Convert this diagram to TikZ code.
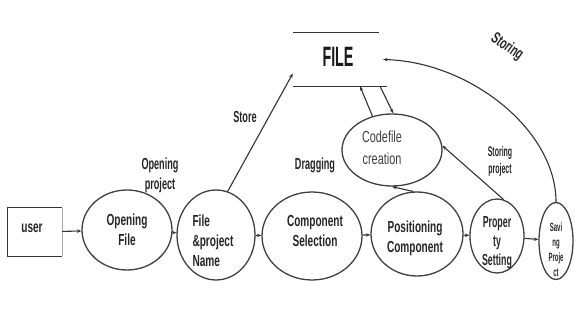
\documentclass[tikz,border=0pt]{standalone}
\usepackage{fontspec}
\setmainfont{Liberation Sans}
\newfontfamily\fM{Liberation Sans}[FakeStretch=0.63]
\newfontfamily\fL{Liberation Sans}[FakeStretch=0.57]
\newfontfamily\fP{Liberation Sans}[FakeStretch=0.55]
\newfontfamily\fS{Liberation Sans}[FakeStretch=0.5]
\newfontfamily\fC{Liberation Sans}[FakeStretch=0.68]
\newfontfamily\fF{Liberation Sans}[FakeStretch=0.51]
\usetikzlibrary{shapes.geometric,arrows.meta,calc}
\begin{document}
\begin{tikzpicture}[x=1pt,y=-1pt,
  ell/.style={ellipse, draw=black!75, line width=1.3pt, inner sep=0pt},
  arr/.style={draw=black!80, line width=1.1pt, -{Stealth[length=4.5pt,width=3.5pt]}},
  edge/.style={draw=black!80, line width=1.3pt},
  txt/.style={font=\fM\bfseries\fontsize{16}{20}\selectfont, align=center, text=black!85, inner sep=0pt},
  lbl/.style={font=\fL\bfseries\fontsize{16}{20}\selectfont, align=center, text=black!85, inner sep=0pt},
  ptxt/.style={font=\fP\bfseries\fontsize{16}{19}\selectfont, align=center, text=black!85, inner sep=0pt},
  stxt/.style={font=\fS\bfseries\fontsize{12}{15}\selectfont, align=center, text=black!85, inner sep=0pt},
  sml/.style={font=\fS\bfseries\fontsize{14}{17}\selectfont, align=center, text=black!85, inner sep=0pt},
  ctxt/.style={font=\fC\fontsize{16}{22}\selectfont, align=center, text=black!75, inner sep=0pt}]
\useasboundingbox (0,0) rectangle (579,320);
\fill[white] (0,0) rectangle (579,320);

% user box
\node[minimum width=54pt, minimum height=48pt, inner sep=0pt] (user) at (35,232) {};
\draw[edge] ($(user.north west)+(-1,0)$) -- (user.north east);
\draw[edge] ($(user.south west)+(-1,0)$) -- (user.south east);
\draw[edge] (user.north west) -- (user.south west);
\draw[draw=black!35, line width=0.6pt] (user.north east) -- (user.south east);
\node[txt] (usert) at (32,228) {user};

% ellipses
\node[ell, minimum width=90pt, minimum height=80pt] (of) at (127,230) {};
\node[ell, minimum width=78pt, minimum height=90pt] (fpn) at (216,235) {};
\node[ell, minimum width=100pt, minimum height=88pt] (cs) at (312,236) {};
\node[ell, minimum width=92pt, minimum height=84pt] (pc) at (417,234) {};
\node[ell, minimum width=54pt, minimum height=74pt] (pst) at (497,236) {};
\node[ell, minimum width=34pt, minimum height=77pt] (sp) at (556,241) {};
\node[ell, minimum width=100pt, minimum height=72pt] (cf) at (392,150) {};

% texts in ellipses
\node[txt] (oft) at (127,230) {Opening\\File};
\node[txt, align=left] (fpnt) at (213,241) {File\\\&project\\Name};
\node[txt] (cst) at (315,231) {Component\\Selection};
\node[txt] (pct) at (415,238) {Positioning\\Component};
\node[ptxt] (pstt) at (497,243) {Proper\\ty\\Setting};
\node[stxt] (spt) at (556,250) {Savi\\ng\\Proje\\ct};
\node[ctxt] (cft) at (382,148) {Codefile\\creation};

% FILE store
\node[minimum width=90pt, minimum height=53pt, inner sep=0pt] (file) at (338,59.5) {};
\draw[edge] (file.north west) -- ++(86,0);
\draw[edge] (file.south west) -- ++(94,0);
\node[font=\fF\bfseries\fontsize{28}{30}\selectfont, text=black!90, inner sep=0pt] (filet) at (338,57) {FILE};

% flow arrows
\draw[arr] (user) -- (of);
\draw[arr] (of) -- (fpn);
\draw[arr] (fpn) -- (cs);
\draw[arr] (cs) -- (pc);
\draw[arr] (pc) -- (pst);
\draw[arr] (pst) -- (sp);
\draw[arr] (fpn.75) -- ($(file.west)+(0,14)$);
\draw[arr] (cf.120) -- ($(file.south)+(22,0)$);
\draw[arr] ($(file.south)+(42,0)$) -- (cf.88);
\draw[arr] (pst.80) -- (cf.5);
\draw[arr] (pc.95) -- (cf.-90);
\draw[arr] (sp.north) .. controls (556,130) and (470,62) .. (file.east);

% labels
\node[lbl] (l1) at (160,175) {Opening\\project};
\node[lbl] (l2) at (245,117) {Store};
\node[lbl] (l3) at (315,165) {Dragging};
\node[sml] (l4) at (500,161) {Storing\\project};
\node[txt, rotate=-35] (l5) at (507,47) {Storing};
\end{tikzpicture}
\end{document}
